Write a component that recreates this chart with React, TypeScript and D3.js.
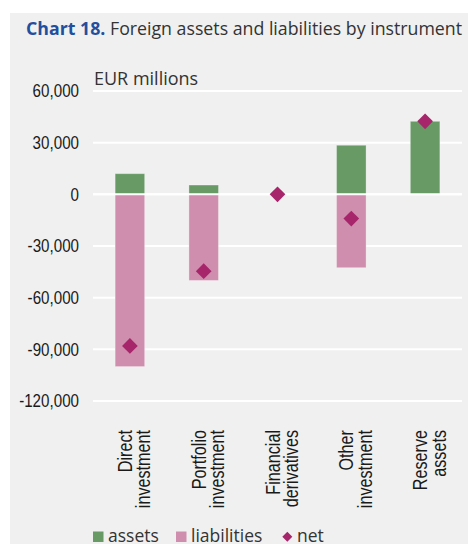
import React, { useRef, useEffect } from 'react';
import * as d3 from 'd3';

const categories = [
  ['Direct', 'investment'],
  ['Portfolio', 'investment'],
  ['Financial', 'derivatives'],
  ['Other', 'investment'],
  ['Reserve', 'assets'],
];
const assets = [12000, 5400, 0, 28500, 42400];
const liabilities = [-100000, -50000, 0, -42600, 0];
const net = [-88000, -44600, 0, -14100, 42400];
const yTicks = [60000, 30000, 0, -30000, -60000, -90000, -120000];

const W = 468;
const H = 544;
// no condensed face installed: squeeze Liberation Sans horizontally instead
const narrow = "'Liberation Sans', Arial, sans-serif";
const squeeze = 0.82;
const regular = "'Open Sans', 'Noto Sans', sans-serif";

export default function App() {
  const svgRef = useRef<SVGSVGElement | null>(null);

  useEffect(() => {
    const svg = d3.select(svgRef.current);
    svg.selectAll('*').remove();

    const colors = { assets: '#679a65', liabilities: '#cf8eae', net: '#a6256b' };

    // panel background
    svg.append('rect').attr('x', 10).attr('y', 13).attr('width', W - 10).attr('height', H - 13).attr('fill', '#f0f0f0');

    // title
    const title = svg
      .append('text')
      .attr('x', 26)
      .attr('y', 35)
      .attr('font-family', regular)
      .attr('font-size', 18.5)
      .attr('textLength', 436)
      .attr('lengthAdjust', 'spacingAndGlyphs');
    title.append('tspan').attr('fill', '#1f4f9e').attr('font-weight', 700).text('Chart 18.');
    title.append('tspan').attr('fill', '#333').text(' Foreign assets and liabilities by instrument');

    const x = d3
      .scaleBand<number>()
      .domain(categories.map((_, i) => i))
      .range([93, 462])
      .paddingInner(0.6)
      .paddingOuter(0.3);

    const y = d3.scaleLinear().domain([-120000, 60000]).range([401, 91]);

    // grid
    svg
      .append('g')
      .selectAll('line')
      .data(yTicks)
      .join('line')
      .attr('x1', 93)
      .attr('x2', 462)
      .attr('y1', (d) => y(d))
      .attr('y2', (d) => y(d))
      .attr('stroke', '#fff')
      .attr('stroke-width', 2);

    svg
      .append('g')
      .selectAll('text')
      .data(yTicks)
      .join('text')
      .attr('transform', (d) => `translate(79,${y(d)}) scale(${squeeze},1)`)
      .attr('dy', '0.35em')
      .attr('text-anchor', 'end')
      .attr('font-family', narrow)
      .attr('font-size', 18.5)
      .attr('fill', '#1a1a1a')
      .text((d) => d3.format(',')(d).replace('−', '-'));

    svg
      .append('text')
      .attr('x', 94)
      .attr('y', 85)
      .attr('font-family', regular)
      .attr('font-size', 18)
      .attr('fill', '#333')
      .text('EUR millions');

    // bars
    const bars = svg.append('g');
    bars
      .selectAll('rect.assets')
      .data(assets.map((v, i) => ({ v, i })).filter((d) => d.v !== 0))
      .join('rect')
      .attr('class', 'assets')
      .attr('x', (d) => x(d.i)!)
      .attr('width', x.bandwidth())
      .attr('y', (d) => y(d.v))
      .attr('height', (d) => y(0) - y(d.v))
      .attr('fill', colors.assets)
      .attr('stroke', 'rgba(255,255,255,0.3)')
      .attr('stroke-width', 1);

    bars
      .selectAll('rect.liab')
      .data(liabilities.map((v, i) => ({ v, i })).filter((d) => d.v !== 0))
      .join('rect')
      .attr('class', 'liab')
      .attr('x', (d) => x(d.i)!)
      .attr('width', x.bandwidth())
      .attr('y', y(0))
      .attr('height', (d) => y(d.v) - y(0))
      .attr('fill', colors.liabilities)
      .attr('stroke', 'rgba(255,255,255,0.3)')
      .attr('stroke-width', 1);

    // zero line over bars
    svg
      .append('line')
      .attr('x1', 93)
      .attr('x2', 462)
      .attr('y1', y(0))
      .attr('y2', y(0))
      .attr('stroke', '#fff')
      .attr('stroke-width', 2);

    const diamond = d3.symbol(d3.symbolSquare, 123);
    svg
      .append('g')
      .selectAll('path')
      .data(net)
      .join('path')
      .attr('d', diamond)
      .attr('transform', (d, i) => `translate(${x(i)! + x.bandwidth() / 2},${y(d)}) rotate(45)`)
      .attr('fill', colors.net);

    // category labels
    categories.forEach((lines, i) => {
      const cx = x(i)! + x.bandwidth() / 2;
      lines.forEach((t, j) => {
        svg
          .append('text')
          .attr('transform', `translate(${cx + 2 + j * 18.5},430) rotate(-90) scale(0.83,1)`)
          .attr('text-anchor', 'end')
          .attr('font-family', narrow)
          .attr('font-size', 19.5)
          .attr('fill', '#1a1a1a')
          .text(t);
      });
    });

    // legend
    const lg = svg.append('g').attr('font-family', regular).attr('font-size', 17.5).attr('fill', '#333');
    lg.append('rect').attr('x', 93).attr('y', 531.5).attr('width', 10.5).attr('height', 10.5).attr('fill', colors.assets);
    lg.append('text').attr('x', 108).attr('y', 542).text('assets');
    lg.append('rect').attr('x', 176).attr('y', 531.5).attr('width', 10.5).attr('height', 10.5).attr('fill', colors.liabilities);
    lg.append('text').attr('x', 191).attr('y', 542).text('liabilities');
    lg.append('path').attr('d', d3.symbol(d3.symbolSquare, 50)).attr('transform', 'translate(287.3,536.7) rotate(45)').attr('fill', colors.net);
    lg.append('text').attr('x', 297).attr('y', 542).text('net');
  }, []);

  return (
    <svg
      ref={svgRef}
      width={W}
      height={H}
      style={{ position: 'absolute', left: 0, top: 0, background: '#fff' }}
    />
  );
}
